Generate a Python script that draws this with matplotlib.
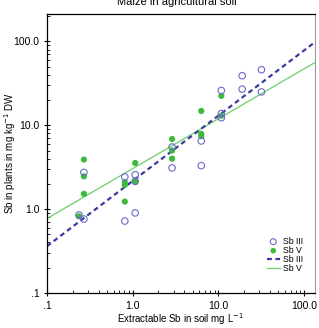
import numpy as np
import matplotlib.pyplot as plt

plt.rcParams.update({
    "font.family": ["Liberation Sans", "DejaVu Sans"],
    "font.size": 7.5,
})

# %% Data
sb3_x = [0.236, 0.27, 0.27, 0.81, 0.81, 1.07, 1.07, 1.07, 2.88, 2.88,
         6.3, 6.3, 10.8, 10.8, 10.8, 18.9, 18.9, 31.7, 31.7]
sb3_y = [0.85, 2.74, 0.76, 2.42, 0.72, 2.57, 2.14, 0.90, 5.5, 3.1,
         6.5, 3.3, 26.0, 13.8, 12.3, 39.0, 27.0, 46.0, 25.0]

sb5_x = [0.236, 0.27, 0.27, 0.27, 0.81, 0.81, 0.81, 1.07, 1.07, 2.88,
         2.88, 2.88, 6.3, 6.3, 6.3, 10.8, 10.8]
sb5_y = [0.82, 3.9, 2.46, 1.52, 2.10, 1.94, 1.23, 3.55, 2.14, 6.85,
         5.0, 4.0, 14.8, 7.9, 7.4, 22.4, 13.0]

# regression lines, end points
fit_x = [0.1, 133.0]
fit_sb3 = [0.36, 98.0]
fit_sb5 = [0.77, 56.0]

ticks = [0.1, 1.0, 10.0, 100.0]
tick_labels = [".1", "1.0", "10.0", "100.0"]

OPEN_C = "#6a6ac8"
FILL_C = "#3dba3d"
DASH_C = "#3b3b9e"
LINE_C = "#6ccf6c"

# %% Plot
fig = plt.figure(figsize=(3.19, 3.28), dpi=100)
ax = fig.add_axes([0.147, 0.107, 0.840, 0.850])

ax.plot(fit_x, fit_sb5, color=LINE_C, lw=0.9, label="Sb V", zorder=2)
ax.plot(fit_x, fit_sb3, color=DASH_C, lw=1.6, ls=(0, (2.2, 1.6)), label="Sb III", zorder=2)
ax.scatter(sb5_x, sb5_y, s=20, color=FILL_C, edgecolors="none", label="Sb V", zorder=3)
ax.scatter(sb3_x, sb3_y, s=22, facecolors="none", edgecolors=OPEN_C, linewidths=0.8,
           label="Sb III", zorder=4)

ax.set_xscale("log")
ax.set_yscale("log")
ax.set_xlim(0.1, 133)
ax.set_ylim(0.1, 212)
ax.set_xticks(ticks)
ax.set_xticklabels(tick_labels)
ax.set_yticks(ticks)
ax.set_yticklabels(tick_labels)
ax.tick_params(which="major", direction="inout", length=5, width=0.8, pad=3)
ax.tick_params(which="minor", direction="in", length=2.5, width=0.6)
for s in ["left", "bottom", "top"]:
    ax.spines[s].set_linewidth(0.9)
ax.spines["right"].set_color("#999999")

ax.set_xlabel("Extractable Sb in soil mg L$^{-1}$", fontsize=7)
ax.xaxis.set_label_coords(0.5, -0.066)
ax.set_ylabel("Sb in plants in mg kg$^{-1}$ DW", fontsize=7)
ax.yaxis.set_label_coords(-0.108, 0.5)
fig.text(0.555, 0.994, "Maize in agricultural soil", ha="center", va="center", fontsize=8)

h, l = ax.get_legend_handles_labels()
order = [3, 2, 1, 0]
ax.legend([h[i] for i in order], [l[i] for i in order], loc="lower right",
          frameon=False, fontsize=6.3, handlelength=1.5, handletextpad=0.4,
          labelspacing=0.0, borderaxespad=0.6, bbox_to_anchor=(0.99, 0.04),
          markerscale=0.9)

fig.savefig("out.png", dpi=100)
